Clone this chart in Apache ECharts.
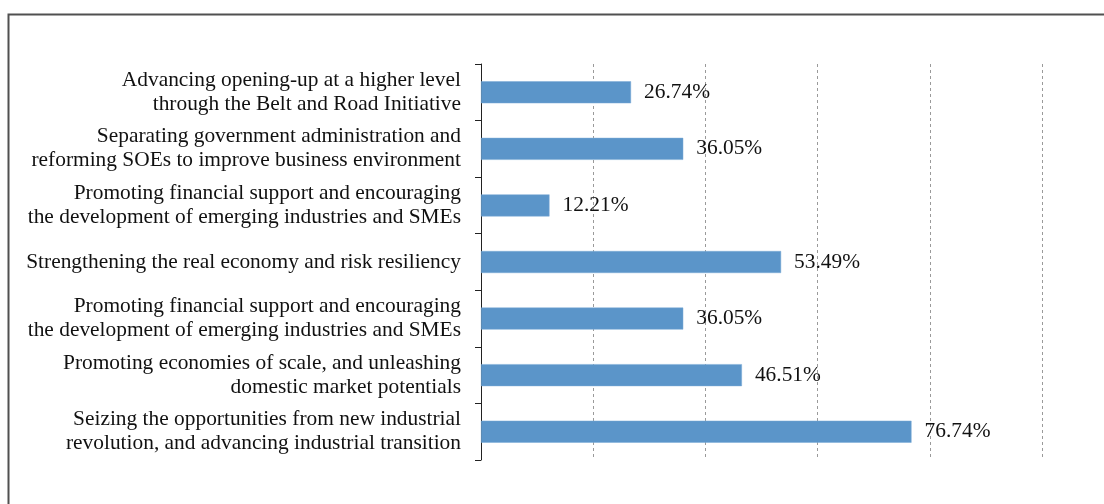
<!DOCTYPE html>
<html>
<head>
<meta charset="utf-8">
<script src="https://cdn.jsdelivr.net/npm/echarts@6/dist/echarts.min.js"></script>
<style>
  html, body { margin: 0; padding: 0; background: #fff; }
  #chart { width: 1104px; height: 504px; }
</style>
</head>
<body>
<div id="chart"></div>
<script>
// Policy priorities, listed top to bottom
const categories = [
  'Advancing opening-up at a higher level\nthrough the Belt and Road Initiative',
  'Separating government administration and\nreforming SOEs to improve business environment',
  'Promoting financial support and encouraging\nthe development of emerging industries and SMEs',
  'Strengthening the real economy and risk resiliency',
  'Promoting financial support and encouraging\nthe development of emerging industries and SMEs',
  'Promoting economies of scale, and unleashing\ndomestic market potentials',
  'Seizing the opportunities from new industrial\nrevolution, and advancing industrial transition'
];
// Share of respondents, percent
const shares = [26.74, 36.05, 12.21, 53.49, 36.05, 46.51, 76.74];

const serif = '"Liberation Serif", "Times New Roman", serif';

const chart = echarts.init(document.getElementById('chart'), null, { renderer: 'canvas' });
chart.setOption({
  backgroundColor: '#fff',
  animation: false,
  graphic: [{
    type: 'rect',
    left: 6, top: 12,
    shape: { width: 1120, height: 520 },
    style: { fill: 'none', stroke: '#505050', lineWidth: 2 },
    silent: true
  }],
  grid: { left: 481, right: 62, top: 64, bottom: 44, containLabel: false },
  xAxis: {
    type: 'value',
    min: 0, max: 100, interval: 20,
    axisLine: { show: false },
    axisTick: { show: false },
    axisLabel: { show: false },
    splitLine: { show: true, lineStyle: { color: '#9a9a9a', type: [3, 3], width: 1 } }
  },
  yAxis: {
    type: 'category',
    inverse: true,
    data: categories,
    axisLine: { show: true, lineStyle: { color: '#222', width: 1 } },
    axisTick: { show: true, length: 6, lineStyle: { color: '#222' } },
    axisLabel: {
      margin: 20,
      color: '#111',
      fontFamily: serif,
      fontSize: 21.4,
      lineHeight: 24,
      align: 'right'
    }
  },
  series: [{
    type: 'bar',
    data: shares,
    barWidth: 22,
    itemStyle: { color: '#5b95c9', borderColor: '#7aaad6', borderWidth: 0.5 },
    label: {
      show: true,
      position: 'right',
      distance: 13,
      color: '#111',
      fontFamily: serif,
      fontSize: 21.4,
      formatter: p => p.value.toFixed(2) + '%'
    }
  }]
});
</script>
</body>
</html>
